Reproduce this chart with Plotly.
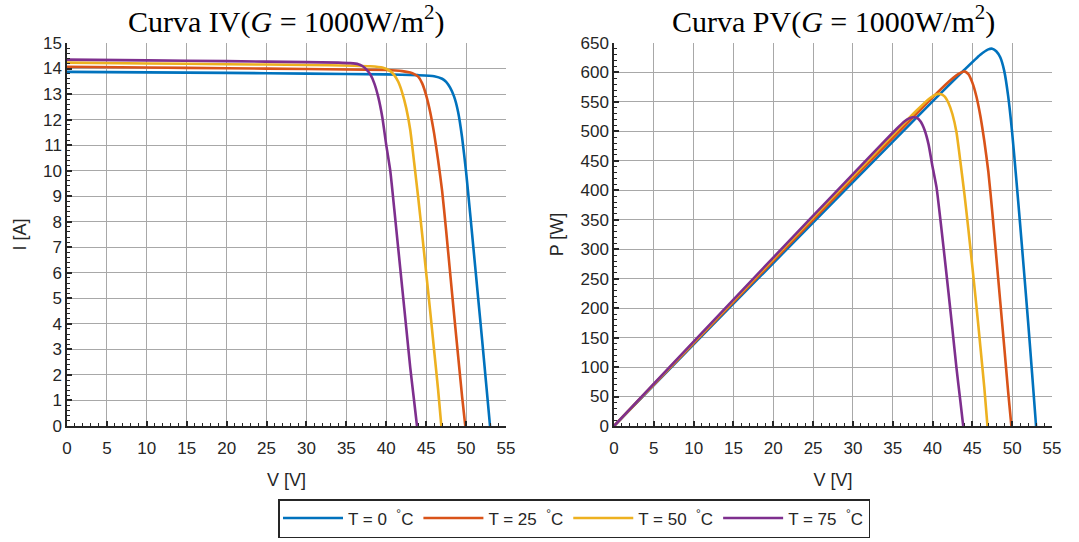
import plotly.graph_objects as go

# Módulo FV a G = 1000 W/m^2 para cuatro temperaturas de célula
temps = [0, 25, 50, 75]
colors = ["#0072BD", "#D95319", "#EDB120", "#7E2F8E"]

# T = 0 °C
v_t0 = [0, 10, 20, 30, 40, 44, 46, 47, 47.5, 48, 48.5, 49, 49.5, 50, 50.5, 51, 51.5, 52, 52.5, 53.0]
i_t0 = [13.87, 13.85, 13.83, 13.80, 13.77, 13.74, 13.70, 13.60, 13.48, 13.25, 12.90, 12.30, 11.30, 9.95,
        8.35, 6.70, 5.05, 3.40, 1.70, 0]
p_t0 = [0, 138.5, 276.6, 414.0, 550.8, 604.6, 630.2, 639.2, 640.3, 636.0, 625.7, 602.7, 559.4, 497.5,
        421.7, 341.7, 260.1, 176.8, 89.3, 0]

# T = 25 °C
v_t25 = [0, 10, 20, 30, 40, 42, 43, 43.5, 44, 44.5, 45, 45.5, 46, 46.5, 47, 47.5, 48, 48.5, 49, 49.5, 49.9]
i_t25 = [14.07, 14.04, 14.01, 13.98, 13.94, 13.90, 13.84, 13.78, 13.68, 13.42, 12.95, 12.30, 11.45, 10.40,
         9.20, 7.65, 6.00, 4.35, 2.75, 1.15, 0]
p_t25 = [0, 140.4, 280.2, 419.4, 557.6, 583.8, 595.1, 599.4, 601.9, 597.2, 582.8, 559.7, 526.7, 483.6,
         432.4, 363.4, 288.0, 211.0, 134.8, 56.9, 0]

# T = 50 °C
v_t50 = [0, 10, 20, 30, 36, 38, 39.5, 40.5, 41, 41.5, 42, 42.5, 43, 43.5, 44, 44.5, 45, 45.5, 46, 46.5, 46.9]
i_t50 = [14.23, 14.20, 14.17, 14.14, 14.11, 14.09, 14.04, 13.90, 13.74, 13.48, 13.05, 12.45, 11.60, 10.30,
         8.95, 7.50, 6.00, 4.50, 2.95, 1.40, 0]
p_t50 = [0, 142.0, 283.4, 424.2, 508.0, 535.4, 554.6, 563.0, 563.3, 559.4, 548.1, 529.1, 498.8, 448.1,
         393.8, 333.8, 270.0, 204.8, 135.7, 65.1, 0]

# T = 75 °C
v_t75 = [0, 10, 20, 30, 34, 35.5, 36.5, 37, 37.5, 38, 38.5, 39, 39.5, 40, 40.5, 41, 41.5, 42, 42.5, 43,
         43.5, 43.85]
i_t75 = [14.35, 14.32, 14.29, 14.25, 14.23, 14.21, 14.17, 14.10, 13.97, 13.77, 13.42, 12.88, 12.10, 11.00,
         10.00, 8.50, 6.95, 5.40, 3.85, 2.30, 0.95, 0]
p_t75 = [0, 143.2, 285.8, 427.5, 483.8, 504.5, 517.2, 521.7, 523.9, 523.3, 516.7, 502.3, 478.0, 440.0,
         405.0, 348.5, 288.4, 226.8, 163.6, 98.9, 41.3, 0]

voltages = [v_t0, v_t25, v_t50, v_t75]
currents = [i_t0, i_t25, i_t50, i_t75]
powers = [p_t0, p_t25, p_t50, p_t75]

AX = "#262626"
GRID = "#a8a8a8"
SANS = "Liberation Sans, Arial, sans-serif"
SERIF = "Liberation Serif, Times New Roman, serif"

fig = go.Figure()
for t, c, v, i, p in zip(temps, colors, voltages, currents, powers):
    label = f"T = {t}&nbsp; <sup>°</sup>C"
    fig.add_trace(go.Scatter(x=v, y=i, xaxis="x", yaxis="y", mode="lines",
                             line=dict(color=c, width=2.6, shape="spline", smoothing=0.5),
                             name=label, legendgroup=str(t)))
    fig.add_trace(go.Scatter(x=v, y=p, xaxis="x2", yaxis="y2", mode="lines",
                             line=dict(color=c, width=2.6, shape="spline", smoothing=0.5),
                             name=label, legendgroup=str(t), showlegend=False))


def xaxis_style(domain, anchor):
    return dict(domain=domain, anchor=anchor, range=[0, 55], dtick=5, tick0=0, automargin=False,
                showline=True, linecolor=AX, linewidth=1.5, mirror=False,
                ticks="inside", ticklen=5, tickwidth=1.5, tickcolor=AX, ticklabelstandoff=6,
                minor=dict(dtick=1, ticks="inside", ticklen=3, tickcolor=AX, tickwidth=1.2, showgrid=False),
                showgrid=True, gridcolor=GRID, gridwidth=1.2, zeroline=False,
                tickfont=dict(family=SANS, size=17, color=AX),
                title=dict(text="V [V]", font=dict(family=SANS, size=18, color=AX), standoff=16))


def yaxis_style(domain, anchor, rng, dtick, minor, label):
    return dict(domain=domain, anchor=anchor, range=rng, dtick=dtick, tick0=0, automargin=False,
                showline=True, linecolor=AX, linewidth=1.5, mirror=False,
                ticks="inside", ticklen=5, tickwidth=1.5, tickcolor=AX,
                minor=dict(dtick=minor, ticks="inside", ticklen=3, tickcolor=AX, tickwidth=1.2, showgrid=False),
                showgrid=True, gridcolor=GRID, gridwidth=1.2, zeroline=False,
                tickfont=dict(family=SANS, size=17, color=AX),
                title=dict(text=label, font=dict(family=SANS, size=18, color=AX), standoff=12))


ydom = [1 - 426 / 542, 1 - 43 / 542]
x1dom = [67 / 1079, 506 / 1079]
x2dom = [614 / 1079, 1052 / 1079]

fig.update_layout(
    width=1079, height=542,
    margin=dict(l=0, r=0, t=0, b=0),
    paper_bgcolor="white", plot_bgcolor="white",
    xaxis=xaxis_style(x1dom, "y"),
    yaxis=yaxis_style(ydom, "x", [0, 15], 1, 0.2, "I [A]"),
    xaxis2=xaxis_style(x2dom, "y2"),
    yaxis2=yaxis_style(ydom, "x2", [0, 650], 50, 10, "P [W]"),
    legend=dict(orientation="h", x=574 / 1079, xanchor="center", y=1 - 538 / 542, yanchor="bottom",
                bordercolor=AX, borderwidth=1.5, bgcolor="white",
                font=dict(family=SANS, size=17, color=AX), itemwidth=60,
                tracegroupgap=0),
    showlegend=True,
    annotations=[
        dict(text="Curva IV(<i>G</i> = 1000W/m<sup>2</sup>)", x=sum(x1dom) / 2, y=1 - 20 / 542,
             xref="paper", yref="paper", showarrow=False, xanchor="center", yanchor="middle",
             font=dict(family=SERIF, size=30, color="black")),
        dict(text="Curva PV(<i>G</i> = 1000W/m<sup>2</sup>)", x=sum(x2dom) / 2, y=1 - 20 / 542,
             xref="paper", yref="paper", showarrow=False, xanchor="center", yanchor="middle",
             font=dict(family=SERIF, size=30, color="black")),
    ],
)

fig.write_html("out.html")
